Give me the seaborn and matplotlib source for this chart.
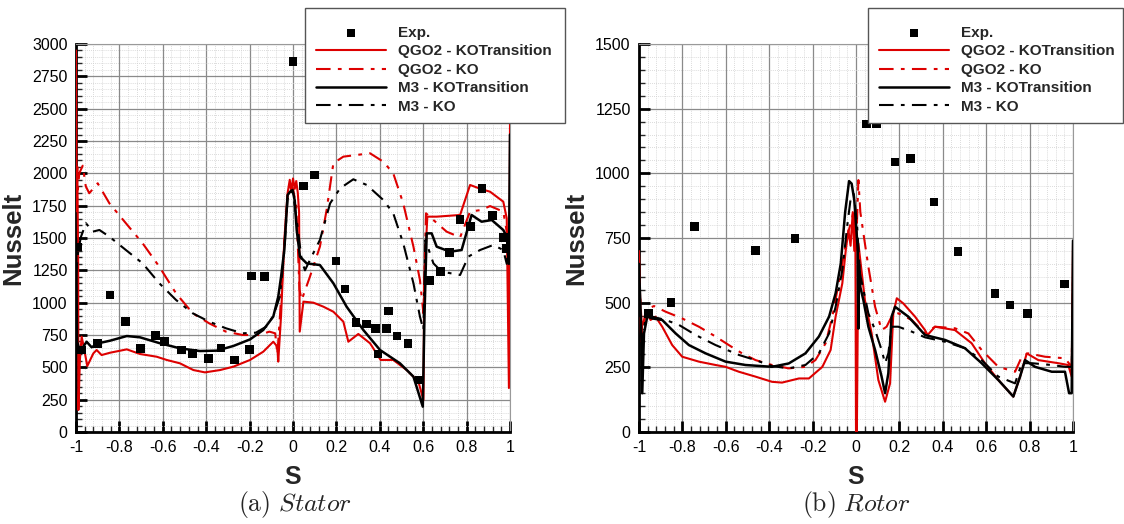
import numpy as np
import pandas as pd
import seaborn as sns
import matplotlib
matplotlib.use("Agg")
import matplotlib.pyplot as plt
from matplotlib.patches import Rectangle
from matplotlib.ticker import MultipleLocator

# ---------------- Stator data ----------------
stator_exp_s = [-0.99, -0.974, -0.902, -0.843, -0.773, -0.702, -0.633, -0.593, -0.513, -0.462, -0.390, -0.332,
                -0.270, -0.201, -0.190, -0.132, 0.0, 0.048, 0.098, 0.198, 0.240, 0.290, 0.340, 0.379, 0.392,
                0.432, 0.439, 0.479, 0.530, 0.581, 0.628, 0.681, 0.720, 0.770, 0.819, 0.871, 0.920, 0.969, 0.985]
stator_exp_n = [1430, 634, 686, 1059, 853, 647, 745, 698, 634, 608, 570, 650, 557, 637, 1206, 1201, 2866, 1902,
                1987, 1322, 1106, 845, 835, 802, 603, 799, 935, 742, 686, 402, 1170, 1240, 1389, 1645, 1588,
                1884, 1675, 1505, 1420]

stator_qgo2_tr_s = [-1.0, -0.997, -0.994, -0.99, -0.989, -0.982, -0.974, -0.965, -0.948, -0.92, -0.905, -0.882,
                    -0.843, -0.766, -0.705, -0.628, -0.582, -0.521, -0.459, -0.406, -0.336, -0.275, -0.198,
                    -0.137, -0.091, -0.072, -0.068, -0.055, -0.04, -0.025, -0.015, -0.008, 0.0, 0.008, 0.015,
                    0.022, 0.028, 0.031, 0.048, 0.094, 0.140, 0.186, 0.232, 0.255, 0.301, 0.355, 0.404, 0.462,
                    0.524, 0.578, 0.601, 0.605, 0.619, 0.662, 0.770, 0.816, 0.869, 0.908, 0.969, 0.985, 0.995, 1.0]
stator_qgo2_tr_n = [2950, 1800, 2050, 1300, 170, 557, 737, 665, 510, 608, 634, 595,
                    613, 639, 603, 582, 557, 531, 479, 461, 479, 505, 557,
                    621, 698, 660, 544, 900, 1485, 1845, 1950, 1860, 1960, 1880, 1940,
                    1850, 1700, 776, 1008, 1000, 969, 930, 853, 698, 758, 686, 557, 557,
                    479, 389, 247, 1200, 1665, 1665, 1678, 1910, 1877, 1858, 1781, 1652, 340, 2400]

stator_qgo2_ko_s = [-1.0, -0.985, -0.969, -0.955, -0.939, -0.900, -0.846, -0.770, -0.693, -0.616, -0.539, -0.462,
                    -0.386, -0.309, -0.232, -0.155, -0.109, -0.082, -0.072, -0.06, -0.04, -0.025, -0.01, 0.0,
                    0.015, 0.03, 0.04, 0.078, 0.124, 0.155, 0.186, 0.232, 0.293, 0.355, 0.416, 0.462, 0.508,
                    0.555, 0.585, 0.601, 0.613, 0.647, 0.708, 0.770, 0.816, 0.869, 0.908, 0.969, 0.985, 1.0]
stator_qgo2_ko_n = [1700, 2000, 2059, 1900, 1846, 1923, 1768, 1614, 1459, 1278, 1072, 918,
                    840, 776, 750, 750, 776, 763, 600, 900, 1450, 1830, 1900, 1880,
                    1750, 1100, 1021, 1201, 1433, 1717, 2078, 2129, 2142, 2155, 2090, 2000, 1768,
                    1433, 1175, 918, 1691, 1639, 1549, 1505, 1704, 1717, 1747, 1704, 1550, 1450]

stator_m3_tr_s = [-1.0, -0.995, -0.985, -0.975, -0.966, -0.951, -0.928, -0.897, -0.843, -0.766, -0.705, -0.613,
                  -0.521, -0.429, -0.352, -0.275, -0.198, -0.137, -0.091, -0.068, -0.055, -0.040, -0.025,
                  -0.012, -0.002, 0.008, 0.017, 0.032, 0.063, 0.124, 0.186, 0.247, 0.324, 0.401, 0.493, 0.555,
                  0.598, 0.606, 0.616, 0.639, 0.662, 0.724, 0.777, 0.823, 0.869, 0.916, 0.969, 0.985, 0.995, 1.0]
stator_m3_tr_n = [1500, 700, 640, 610, 660, 698, 655, 686, 706, 742, 732, 686,
                  647, 626, 629, 665, 716, 789, 892, 1046, 1200, 1407, 1832,
                  1860, 1871, 1790, 1562, 1356, 1304, 1291, 1150, 969, 789, 634, 531, 428,
                  196, 900, 1536, 1536, 1433, 1394, 1407, 1678, 1626, 1639, 1562, 1510, 1300, 2300]

stator_m3_ko_s = [-1.0, -0.99, -0.977, -0.954, -0.923, -0.892, -0.846, -0.770, -0.693, -0.616, -0.539, -0.462,
                  -0.386, -0.309, -0.232, -0.171, -0.124, -0.09, -0.06, -0.04, -0.025, -0.01, 0.0, 0.02, 0.04,
                  0.055, 0.078, 0.124, 0.171, 0.217, 0.278, 0.340, 0.416, 0.462, 0.508, 0.555, 0.585, 0.601,
                  0.610, 0.647, 0.685, 0.770, 0.808, 0.862, 0.923, 0.969, 0.985, 1.0]
stator_m3_ko_n = [1200, 1400, 1510, 1614, 1549, 1562, 1510, 1407, 1304, 1150, 1021, 918,
                  853, 802, 763, 768, 814, 900, 1050, 1400, 1800, 1860, 1850, 1600, 1330,
                  1250, 1330, 1485, 1768, 1884, 1954, 1910, 1794, 1691, 1459, 1150, 892, 789,
                  1485, 1304, 1240, 1214, 1356, 1407, 1446, 1407, 1300, 1500]

# ---------------- Rotor data ----------------
rotor_exp_s = [-0.957, -0.853, -0.743, -0.462, -0.281, 0.049, 0.095, 0.180, 0.251, 0.359, 0.470, 0.641,
               0.710, 0.791, 0.960]
rotor_exp_n = [459, 501, 795, 701, 747, 1191, 1193, 1043, 1058, 890, 697, 536, 491, 459, 572]

rotor_qgo2_tr_s = [-1.0, -0.99, -0.985, -0.976, -0.962, -0.947, -0.924, -0.893, -0.847, -0.801, -0.724, -0.647,
                   -0.601, -0.540, -0.463, -0.387, -0.341, -0.263, -0.217, -0.155, -0.117, -0.094, -0.063,
                   -0.047, -0.035, -0.025, -0.015, -0.008, -0.003, 0.0, 0.004, 0.011, 0.041, 0.072, 0.103,
                   0.134, 0.157, 0.172, 0.188, 0.218, 0.272, 0.318, 0.330, 0.364, 0.456, 0.533, 0.594, 0.656,
                   0.725, 0.756, 0.787, 0.840, 0.932, 0.978, 0.994, 1.0]
rotor_qgo2_tr_n = [700, 350, 420, 433, 465, 433, 446, 407, 336, 291, 272, 259,
                   252, 233, 214, 194, 191, 207, 207, 252, 317, 446, 575,
                   704, 780, 720, 850, 700, 800, 0, 0, 729, 510, 381, 201,
                   117, 188, 459, 517, 497, 446, 394, 375, 407, 394, 343, 266, 201,
                   137, 214, 304, 278, 266, 259, 214, 729]

rotor_qgo2_ko_s = [-1.0, -0.985, -0.969, -0.931, -0.877, -0.801, -0.724, -0.647, -0.586, -0.525, -0.463, -0.387,
                   -0.310, -0.233, -0.187, -0.140, -0.109, -0.086, -0.063, -0.04, -0.02, -0.01, 0.0, 0.011,
                   0.02, 0.041, 0.057, 0.088, 0.118, 0.141, 0.164, 0.195, 0.257, 0.318, 0.364, 0.456, 0.518,
                   0.579, 0.656, 0.733, 0.764, 0.794, 0.871, 0.963, 0.994, 1.0]
rotor_qgo2_ko_n = [600, 380, 472, 487, 465, 439, 407, 369, 336, 304, 278, 259,
                   246, 252, 278, 343, 446, 549, 652, 760, 820, 860, 700, 974,
                   850, 729, 639, 484, 394, 407, 446, 459, 433, 381, 407, 401, 381,
                   317, 252, 233, 291, 304, 291, 285, 252, 600]

rotor_m3_tr_s = [-1.0, -0.99, -0.985, -0.977, -0.962, -0.939, -0.893, -0.831, -0.770, -0.693, -0.601, -0.509,
                 -0.387, -0.310, -0.233, -0.171, -0.124, -0.094, -0.070, -0.05, -0.032, -0.02, -0.008, 0.003,
                 0.008, 0.011, 0.014, 0.02, 0.034, 0.057, 0.088, 0.118, 0.134, 0.149, 0.164, 0.180, 0.241,
                 0.318, 0.410, 0.502, 0.579, 0.656, 0.725, 0.756, 0.779, 0.825, 0.902, 0.963, 0.982, 0.994, 1.0]
rotor_m3_tr_n = [650, 400, 150, 381, 446, 439, 433, 381, 336, 304, 272, 259,
                 252, 265, 304, 369, 446, 536, 652, 850, 970, 960, 897, 768,
                 700, 400, 650, 560, 510, 407, 317, 214, 150, 227, 446, 484, 446,
                 375, 356, 324, 266, 201, 137, 214, 278, 252, 233, 233, 150, 150, 740]

rotor_m3_ko_s = [-1.0, -0.985, -0.969, -0.939, -0.877, -0.816, -0.739, -0.647, -0.540, -0.463, -0.387, -0.310,
                 -0.233, -0.171, -0.124, -0.094, -0.063, -0.04, -0.025, -0.01, 0.005, 0.018, 0.057, 0.088,
                 0.118, 0.134, 0.149, 0.164, 0.195, 0.257, 0.318, 0.410, 0.502, 0.579, 0.656, 0.733, 0.764,
                 0.810, 0.902, 0.963, 0.994, 1.0]
rotor_m3_ko_n = [500, 350, 446, 446, 433, 414, 375, 336, 298, 278, 255, 246,
                 259, 304, 381, 484, 626, 800, 900, 920, 800, 613, 459, 394,
                 317, 266, 304, 407, 407, 388, 366, 349, 324, 278, 214, 188, 266,
                 266, 259, 252, 252, 500]

series_labels = ["Exp.", "QGO2 - KOTransition", "QGO2 - KO", "M3 - KOTransition", "M3 - KO"]
x_ticks = [-1, -0.8, -0.6, -0.4, -0.2, 0, 0.2, 0.4, 0.6, 0.8, 1]
x_tick_labels = ["-1", "-0.8", "-0.6", "-0.4", "-0.2", "0", "0.2", "0.4", "0.6", "0.8", "1"]
captions = [r"$\mathrm{(a)}\ \mathit{Stator}$", r"$\mathrm{(b)}\ \mathit{Rotor}$"]

# ---------------- styling ----------------
sns.set_style("white")
plt.rcParams["font.family"] = ["Liberation Sans", "DejaVu Sans"]
plt.rcParams["mathtext.fontset"] = "cm"

RED = "#dd0000"
DASHDOT = (0, (7, 3.5, 1.8, 3.5))
W, H = 1124, 524
fig = plt.figure(figsize=(W / 100, H / 100), dpi=100)

ax_l = fig.add_axes([76 / W, 1 - 432 / H, 434 / W, 388 / H])
ax_r = fig.add_axes([639 / W, 1 - 432 / H, 434 / W, 388 / H])


def draw_panel(ax, exp_s, exp_n, qtr_s, qtr_n, qko_s, qko_n, mtr_s, mtr_n, mko_s, mko_n, ymax):
    sns.scatterplot(x=exp_s, y=exp_n, ax=ax, marker="s", color="black", s=38, edgecolor="none",
                    zorder=6, label=series_labels[0])
    sns.lineplot(x=qtr_s, y=qtr_n, ax=ax, sort=False, estimator=None, color=RED, lw=1.5,
                 label=series_labels[1], zorder=4)
    sns.lineplot(x=qko_s, y=qko_n, ax=ax, sort=False, estimator=None, color=RED, lw=1.5,
                 linestyle=DASHDOT, label=series_labels[2], zorder=4)
    sns.lineplot(x=mtr_s, y=mtr_n, ax=ax, sort=False, estimator=None, color="black", lw=1.8,
                 label=series_labels[3], zorder=5)
    sns.lineplot(x=mko_s, y=mko_n, ax=ax, sort=False, estimator=None, color="black", lw=1.5,
                 linestyle=DASHDOT, label=series_labels[4], zorder=5)

    ax.set_xlim(-1, 1)
    ax.set_ylim(0, ymax)
    ax.set_xticks(x_ticks)
    ax.set_xticklabels(x_tick_labels)
    ax.yaxis.set_major_locator(MultipleLocator(250))
    ax.xaxis.set_minor_locator(MultipleLocator(0.04))
    ax.yaxis.set_minor_locator(MultipleLocator(50))
    ax.grid(which="major", color="#8a8a8a", lw=0.9, ls="-")
    ax.grid(which="minor", color="#cfcfcf", lw=0.6, ls=(0, (1, 1.5)))
    ax.set_axisbelow(True)
    ax.tick_params(which="major", direction="in", length=8, width=2, labelsize=11.5,
                   left=True, bottom=True, top=False, right=False, pad=6, colors="black")
    ax.tick_params(which="minor", direction="in", length=4, width=1,
                   left=True, bottom=True, top=False, right=False)
    for side in ["left", "bottom"]:
        ax.spines[side].set_color("black")
        ax.spines[side].set_linewidth(2)
    for side in ["top", "right"]:
        ax.spines[side].set_color("#999999")
        ax.spines[side].set_linewidth(0.8)
    ax.set_xlabel("S", fontsize=18, fontweight="bold", labelpad=7)
    ax.set_ylabel("Nusselt", fontsize=18.5, fontweight="bold", labelpad=5)
    handles, labels = ax.get_legend_handles_labels()
    ax.get_legend().remove()
    return handles, labels


h1, l1 = draw_panel(ax_l, stator_exp_s, stator_exp_n, stator_qgo2_tr_s, stator_qgo2_tr_n,
                    stator_qgo2_ko_s, stator_qgo2_ko_n, stator_m3_tr_s, stator_m3_tr_n,
                    stator_m3_ko_s, stator_m3_ko_n, 3000)
h2, l2 = draw_panel(ax_r, rotor_exp_s, rotor_exp_n, rotor_qgo2_tr_s, rotor_qgo2_tr_n,
                    rotor_qgo2_ko_s, rotor_qgo2_ko_n, rotor_m3_tr_s, rotor_m3_tr_n,
                    rotor_m3_ko_s, rotor_m3_ko_n, 1500)

# legend boxes + legends
for (box_x0, box_x1, handle_x, hs, ls) in [(305, 565, 316, h1, l1), (868, 1123, 879, h2, l2)]:
    fig.add_artist(Rectangle((box_x0 / W, 1 - 123 / H), (box_x1 - box_x0) / W, 115 / H,
                             transform=fig.transFigure, facecolor="white", edgecolor="#555555",
                             lw=1.0, zorder=3))
    leg = fig.legend(hs, ls, loc="upper left", bbox_to_anchor=(handle_x / W, 1 - 26 / H),
                     bbox_transform=fig.transFigure, frameon=False, borderpad=0, borderaxespad=0,
                     handlelength=4.6, handletextpad=0.78, labelspacing=0.29,
                     prop={"size": 11, "weight": "bold"})
    leg.set_zorder(5)

fig.text(294.5 / W, 1 - 505 / H, captions[0], ha="center", va="center", fontsize=18.5)
fig.text(856 / W, 1 - 505 / H, captions[1], ha="center", va="center", fontsize=18.5)

fig.savefig("out.png", dpi=100)
